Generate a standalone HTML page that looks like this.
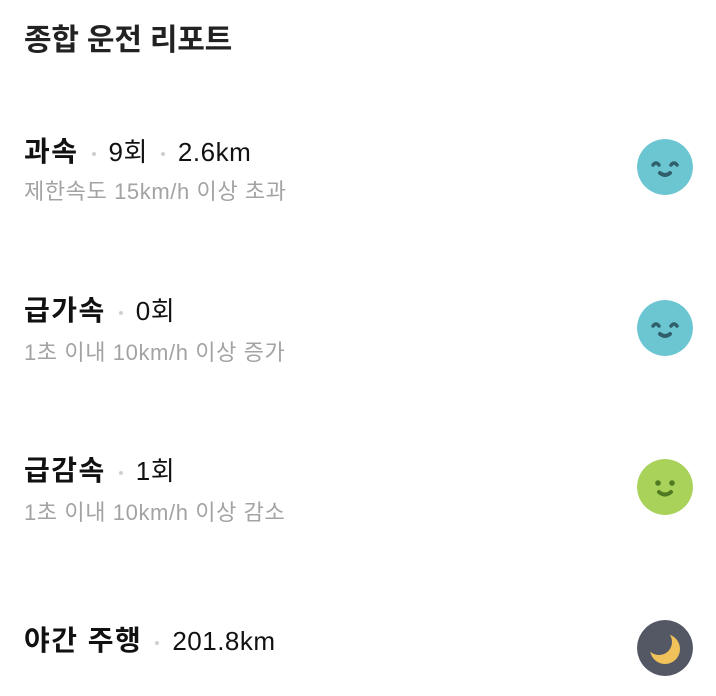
<!DOCTYPE html>
<html><head><meta charset="utf-8"><style>
body{margin:0;width:716px;height:696px;background:#fff;overflow:hidden;font-family:"Liberation Sans","Noto Sans CJK KR",sans-serif;position:relative}
.a{position:absolute;white-space:nowrap}
h1{position:absolute;left:24px;top:21px;margin:0;font-size:30px;font-weight:bold;color:#222;line-height:40px;letter-spacing:-0.2px}
.t{left:24px;font-size:26px;color:#111;line-height:36px}
.t b{font-weight:bold;font-size:28px;letter-spacing:1.5px}
.t .d{display:inline-block;width:4px;height:4px;border-radius:50%;background:#d0d0d0;margin:0 13px 0 13px;vertical-align:middle}
.t .v{font-size:26px;letter-spacing:0.5px}
.s{left:24px;font-size:22px;color:#a3a3a3;line-height:28px;letter-spacing:0.6px}
.ic{position:absolute;left:637px;width:56px;height:56px;border-radius:50%}
</style></head><body>
<h1>종합 운전 리포트</h1>

<div class="a t" style="top:134px"><b>과속</b><span class="d"></span><span class="v">9회</span><span class="d"></span><span class="v">2.6km</span></div>
<div class="a s" style="top:178px">제한속도 15km/h 이상 초과</div>
<svg class="ic" style="top:139px" viewBox="0 0 56 56"><circle cx="28" cy="28" r="28" fill="#6cc6d2"/><path d="M16 26q3-4 6 0M34 26q3-4 6 0" stroke="#2f5f6a" stroke-width="3.5" fill="none" stroke-linecap="round"/><path d="M23 34q5 4 10 0" stroke="#2f5f6a" stroke-width="4" fill="none" stroke-linecap="round"/></svg>

<div class="a t" style="top:293px"><b>급가속</b><span class="d"></span><span class="v">0회</span></div>
<div class="a s" style="top:339px">1초 이내 10km/h 이상 증가</div>
<svg class="ic" style="top:300px" viewBox="0 0 56 56"><circle cx="28" cy="28" r="28" fill="#6cc6d2"/><path d="M16 26q3-4 6 0M34 26q3-4 6 0" stroke="#2f5f6a" stroke-width="3.5" fill="none" stroke-linecap="round"/><path d="M23 34q5 4 10 0" stroke="#2f5f6a" stroke-width="4" fill="none" stroke-linecap="round"/></svg>

<div class="a t" style="top:453px"><b>급감속</b><span class="d"></span><span class="v">1회</span></div>
<div class="a s" style="top:499px">1초 이내 10km/h 이상 감소</div>
<svg class="ic" style="top:459px" viewBox="0 0 56 56"><circle cx="28" cy="28" r="28" fill="#a8d25a"/><circle cx="21" cy="24" r="2.8" fill="#4f7a22"/><circle cx="35" cy="24" r="2.8" fill="#4f7a22"/><path d="M22 33q6 5 12 0" stroke="#4f7a22" stroke-width="4" fill="none" stroke-linecap="round"/></svg>

<div class="a t" style="top:623px"><b>야간 주행</b><span class="d"></span><span class="v">201.8km</span></div>
<svg class="ic" style="top:620px" viewBox="0 0 56 56"><defs><mask id="m"><rect width="56" height="56" fill="#fff"/><circle cx="22" cy="22" r="13" fill="#000"/></mask></defs><circle cx="28" cy="29" r="15" fill="#f2c25a" mask="url(#m)"/><circle cx="28" cy="28" r="28" fill="#545864" style="display:none"/></svg>
<svg class="ic" style="top:620px;z-index:-1" viewBox="0 0 56 56"><circle cx="28" cy="28" r="28" fill="#545864"/></svg>
</body></html>
